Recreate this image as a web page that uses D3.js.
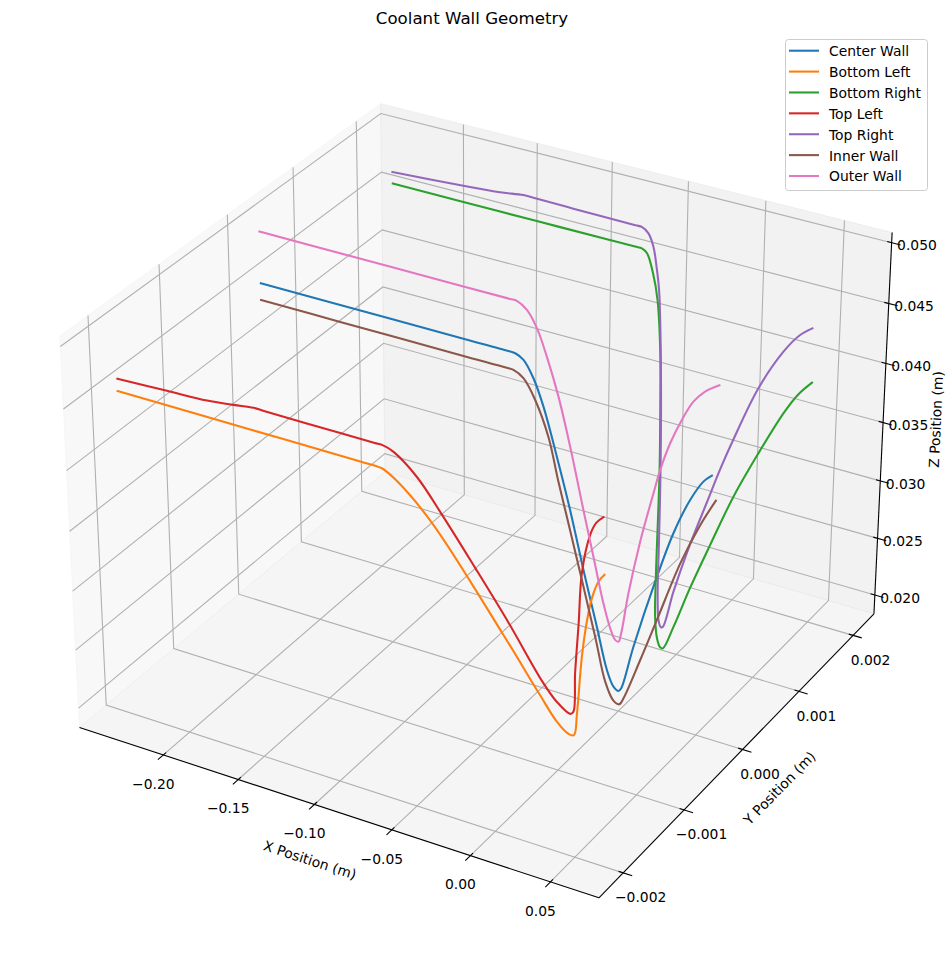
<!DOCTYPE html>
<html><head><meta charset="utf-8"><style>
html,body{margin:0;background:#fff}
text{font-family:"DejaVu Sans";fill:#000}
</style></head><body><svg id="chart" width="947" height="966"></svg>
<script src="https://cdn.jsdelivr.net/npm/d3@7"></script>
<script>
// Wall traces through the cooling channel: axial position, width position, radial height (metres).
const centerX=[-0.2355,-0.1824,-0.1018,-0.0730,-0.0685,-0.0632,-0.0568,-0.0503,-0.0415,-0.0327,-0.0237,-0.0146,-0.0077,-0.0033,-0.0000,0.0017,0.0091,0.0221,0.0329,0.0428,0.0507,0.0558];
const centerZ=[0.04590,0.04590,0.04590,0.04590,0.04588,0.04552,0.04425,0.04216,0.03836,0.03425,0.02953,0.02505,0.02159,0.02033,0.02009,0.02039,0.02428,0.03032,0.03479,0.03791,0.03971,0.04039];
const innerX=[-0.2356,-0.1826,-0.1018,-0.0740,-0.0696,-0.0632,-0.0556,-0.0469,-0.0405,-0.0337,-0.0156,-0.0087,-0.0032,0.0006,0.0033,0.0136,0.0237,0.0377,0.0495,0.0587];
const innerZ=[0.04450,0.04450,0.04450,0.04450,0.04448,0.04403,0.04252,0.03975,0.03640,0.03310,0.02415,0.02054,0.01911,0.01895,0.01959,0.02332,0.02715,0.03248,0.03610,0.03845];
const outerX=[-0.2355,-0.1819,-0.1017,-0.0720,-0.0676,-0.0612,-0.0548,-0.0484,-0.0408,-0.0331,-0.0242,-0.0174,-0.0106,-0.0060,-0.0027,-0.0005,0.0011,0.0053,0.0121,0.0199,0.0238,0.0296,0.0365,0.0433,0.0503,0.0589];
const outerZ=[0.05015,0.05015,0.05015,0.05015,0.05014,0.04963,0.04838,0.04631,0.04332,0.03950,0.03457,0.03090,0.02721,0.02526,0.02439,0.02433,0.02511,0.02869,0.03327,0.03761,0.03967,0.04206,0.04420,0.04592,0.04697,0.04778];
const topRightX=[-0.2358,-0.1880,-0.1631,-0.1474,-0.1400,-0.1140,-0.0730,-0.0688,-0.0644,-0.0595,-0.0546,-0.0497,-0.0418,-0.0317,-0.0231,-0.0143,-0.0082,-0.0036,-0.0012,0.0001,0.0024,0.0056,0.0099,0.0143,0.0188,0.0278,0.0382,0.0461,0.0526];
const topRightY=[0.00208,0.00210,0.00210,0.00210,0.00210,0.00210,0.00210,0.00210,0.00210,0.00206,0.00199,0.00191,0.00174,0.00150,0.00128,0.00104,0.00087,0.00077,0.00075,0.00075,0.00086,0.00101,0.00121,0.00132,0.00140,0.00157,0.00171,0.00177,0.00180];
const topRightZ=[0.04691,0.04719,0.04744,0.04771,0.04770,0.04765,0.04760,0.04760,0.04721,0.04642,0.04518,0.04372,0.04051,0.03598,0.03189,0.02732,0.02405,0.02232,0.02189,0.02199,0.02460,0.02759,0.03095,0.03356,0.03571,0.03962,0.04247,0.04385,0.04450];
const bottomRightX=[-0.2365,-0.1880,-0.1383,-0.0915,-0.0730,-0.0685,-0.0647,-0.0579,-0.0517,-0.0430,-0.0348,-0.0263,-0.0140,-0.0088,-0.0047,-0.0014,0.0004,0.0038,0.0086,0.0148,0.0222,0.0313,0.0408,0.0472,0.0537];
const bottomRightY=[0.00210,0.00210,0.00210,0.00210,0.00210,0.00210,0.00209,0.00202,0.00194,0.00177,0.00157,0.00135,0.00099,0.00085,0.00078,0.00075,0.00075,0.00084,0.00098,0.00115,0.00134,0.00151,0.00167,0.00174,0.00180];
const bottomRightZ=[0.04582,0.04582,0.04582,0.04582,0.04582,0.04582,0.04558,0.04439,0.04272,0.03951,0.03583,0.03149,0.02465,0.02203,0.02065,0.02013,0.02011,0.02173,0.02455,0.02773,0.03129,0.03455,0.03756,0.03905,0.04003];
const topLeftX=[-0.2348,-0.2019,-0.1760,-0.1589,-0.1461,-0.1390,-0.0915,-0.0700,-0.0655,-0.0584,-0.0476,-0.0404,-0.0313,-0.0224,-0.0140,-0.0086,-0.0022,0.0006,0.0095,0.0214,0.0330,0.0454,0.0514,0.0571];
const topLeftY=[-0.00209,-0.00210,-0.00210,-0.00210,-0.00210,-0.00210,-0.00210,-0.00210,-0.00210,-0.00210,-0.00202,-0.00182,-0.00154,-0.00124,-0.00091,-0.00081,-0.00075,-0.00077,-0.00098,-0.00124,-0.00150,-0.00170,-0.00176,-0.00180];
const topLeftZ=[0.04694,0.04718,0.04732,0.04759,0.04782,0.04780,0.04780,0.04780,0.04781,0.04752,0.04560,0.04193,0.03667,0.03107,0.02488,0.02287,0.02179,0.02219,0.02689,0.03279,0.03855,0.04302,0.04450,0.04534];
const bottomLeftX=[-0.2345,-0.1487,-0.0792,-0.0700,-0.0658,-0.0589,-0.0454,-0.0241,-0.0142,-0.0084,-0.0032,0.0007,0.0079,0.0248,0.0366,0.0453,0.0528,0.0582];
const bottomLeftY=[-0.00210,-0.00210,-0.00210,-0.00210,-0.00210,-0.00204,-0.00185,-0.00128,-0.00096,-0.00081,-0.00075,-0.00076,-0.00090,-0.00127,-0.00150,-0.00165,-0.00175,-0.00180];
const bottomLeftZ=[0.04600,0.04600,0.04600,0.04600,0.04596,0.04491,0.04122,0.03020,0.02413,0.02117,0.02003,0.02013,0.02303,0.03031,0.03494,0.03785,0.03985,0.04083];

const seriesNames=["Center Wall","Bottom Left","Bottom Right","Top Left","Top Right","Inner Wall","Outer Wall"];
const seriesColors=["#1f77b4","#ff7f0e","#2ca02c","#d62728","#9467bd","#8c564b","#e377c2"];
const xTicks=[-0.20,-0.15,-0.10,-0.05,0.00,0.05];
const yTicks=[-0.002,-0.001,0.000,0.001,0.002];
const zTicks=[0.020,0.025,0.030,0.035,0.040,0.045,0.050];
const xLimits=[-0.2502,0.0732], yLimits=[-0.00229,0.00230], zLimits=[0.01898,0.05018];

// Walls that sit on the channel mid-plane have a constant width position.
const onMidPlane=xs=>xs.map(()=>0);
const series=[
  [centerX,onMidPlane(centerX),centerZ],
  [bottomLeftX,bottomLeftY,bottomLeftZ],
  [bottomRightX,bottomRightY,bottomRightZ],
  [topLeftX,topLeftY,topLeftZ],
  [topRightX,topRightY,topRightZ],
  [innerX,onMidPlane(innerX),innerZ],
  [outerX,onMidPlane(outerX),outerZ]
].map(([xs,ys,zs],i)=>({name:seriesNames[i],color:seriesColors[i],points:xs.map((x,j)=>[x,ys[j],zs[j]])}));

// Perspective camera: elevation 30 deg, azimuth -60 deg, distance 10, box 4:4:3.
const k=1.8294640721620434*25/24/Math.sqrt(41), box=[4*k,4*k,3*k];
const elev=30*Math.PI/180, azim=-60*Math.PI/180, camDist=10;
const dot=(a,b)=>a[0]*b[0]+a[1]*b[1]+a[2]*b[2];
const cross=(a,b)=>[a[1]*b[2]-a[2]*b[1],a[2]*b[0]-a[0]*b[2],a[0]*b[1]-a[1]*b[0]];
const unit=a=>{const n=Math.hypot(...a);return a.map(v=>v/n)};
const viewDir=[Math.cos(elev)*Math.cos(azim),Math.cos(elev)*Math.sin(azim),Math.sin(elev)];
const eye=box.map((b,i)=>b/2+camDist*viewDir[i]);
const camW=unit(viewDir), camU=unit(cross([0,0,1],camW)), camV=cross(camW,camU);

const sx=d3.scaleLinear().domain(xLimits).range([0,box[0]]);
const sy=d3.scaleLinear().domain(yLimits).range([0,box[1]]);
const sz=d3.scaleLinear().domain(zLimits).range([0,box[2]]);
const screenX=d3.scaleLinear().domain([0,1]).range([484.35,484.35+4797.23]);
const screenY=d3.scaleLinear().domain([0,1]).range([480.86,480.86-4793.59]);
function project([x,y,z]){
  const p=[sx(x)-eye[0],sy(y)-eye[1],sz(z)-eye[2]], d=-dot(camW,p);
  return [screenX(dot(camU,p)/d),screenY(dot(camV,p)/d)];
}
// Panes stand a little outside the data limits.
const padded=l=>{const pad=(l[1]-l[0])/48;return [l[0]-pad,l[1]+pad]};
const [x0,x1]=padded(xLimits),[y0,y1]=padded(yLimits),[z0,z1]=padded(zLimits);
const dxSpan=x1-x0, dySpan=y1-y0;

const svg=d3.select("#chart");
const path=d3.line();
const poly=pts=>path(pts.map(project));

// Panes
const panes=[
  {c:"rgb(242,242,242)",pts:[[x0,y0,z0],[x0,y1,z0],[x0,y1,z1],[x0,y0,z1]]},
  {c:"rgb(230,230,230)",pts:[[x0,y1,z0],[x1,y1,z0],[x1,y1,z1],[x0,y1,z1]]},
  {c:"rgb(236,236,236)",pts:[[x0,y0,z0],[x1,y0,z0],[x1,y1,z0],[x0,y1,z0]]}
];
svg.append("g").selectAll("path").data(panes).join("path")
  .attr("d",d=>poly(d.pts)+"Z").attr("fill",d=>d.c).attr("fill-opacity",.5)
  .attr("stroke",d=>d.c).attr("stroke-opacity",.5).attr("stroke-width",1);

// Grid lines bend from the floor up the back walls
const gridLines=[
  ...xTicks.map(v=>[[v,y0,z0],[v,y1,z0],[v,y1,z1]]),
  ...yTicks.map(v=>[[x1,v,z0],[x0,v,z0],[x0,v,z1]]),
  ...zTicks.map(v=>[[x0,y0,v],[x0,y1,v],[x1,y1,v]])
];
svg.append("g").selectAll("path").data(gridLines).join("path")
  .attr("d",poly).attr("fill","none").attr("stroke","#b0b0b0").attr("stroke-width",1.1);

// Axis edges
const axisEdges=[[[x0,y0,z0],[x1,y0,z0]],[[x1,y0,z0],[x1,y1,z0]],[[x1,y1,z0],[x1,y1,z1]]];
svg.append("g").selectAll("path").data(axisEdges).join("path")
  .attr("d",poly).attr("fill","none").attr("stroke","#000").attr("stroke-width",1.1);

// Tick marks cross the edge, running along a neighbouring axis
const tickOut=1/60, tickIn=1/120;
const tickMarks=[
  ...xTicks.map(v=>[[v,y0-tickOut*dySpan,z0],[v,y0+tickIn*dySpan,z0]]),
  ...yTicks.map(v=>[[x1+tickOut*dxSpan,v,z0],[x1-tickIn*dxSpan,v,z0]]),
  ...zTicks.map(v=>[[x1+tickOut*dxSpan,y1,v],[x1-tickIn*dxSpan,y1,v]])
];
svg.append("g").selectAll("path").data(tickMarks).join("path")
  .attr("d",poly).attr("fill","none").attr("stroke","#000").attr("stroke-width",1.1);

// Tick labels sit at a fixed offset from each edge crossing
const tickLabels=[
  ...xTicks.map(v=>({at:[v,y0,z0],t:d3.format(".2f")(v),dx:-10,dy:28.8})),
  ...yTicks.map(v=>({at:[x1,v,z0],t:d3.format(".3f")(v),dx:17.5,dy:24.5})),
  ...zTicks.map(v=>({at:[x1,y1,v],t:d3.format(".3f")(v),dx:25.3,dy:2.7}))
];
svg.append("g").selectAll("text").data(tickLabels).join("text")
  .attr("x",d=>project(d.at)[0]+d.dx).attr("y",d=>project(d.at)[1]+d.dy+5)
  .attr("text-anchor","middle").attr("font-size",13.89).text(d=>d.t);

// Axis titles
const axisTitles=[
  {t:"X Position (m)",x:310,y:860,r:18},
  {t:"Y Position (m)",x:779.5,y:788,r:-45.6},
  {t:"Z Position (m)",x:936,y:419.5,r:-87.4}
];
svg.append("g").selectAll("text").data(axisTitles).join("text")
  .attr("transform",d=>`translate(${d.x},${d.y}) rotate(${d.r})`)
  .attr("text-anchor","middle").attr("dy",5).attr("font-size",13.89).text(d=>d.t);

svg.append("text").attr("x",472).attr("y",24).attr("text-anchor","middle").attr("font-size",16.67).text("Coolant Wall Geometry");

// Wall traces
const traceLine=d3.line().curve(d3.curveCatmullRom.alpha(0.5));
svg.append("g").selectAll("path").data(series).join("path")
  .attr("d",d=>traceLine(d.points.map(project))).attr("fill","none")
  .attr("stroke",d=>d.color).attr("stroke-width",2.08).attr("stroke-linecap","square").attr("stroke-linejoin","round");

// Legend
const legendRow=d3.scaleLinear().domain([0,6]).range([50.7,176]);
const legend=svg.append("g");
legend.append("rect").attr("x",785.5).attr("y",39.5).attr("width",142).attr("height",151).attr("rx",3)
  .attr("fill","#fff").attr("fill-opacity",.8).attr("stroke","#ccc").attr("stroke-width",1);
const row=legend.selectAll("g").data(series).join("g").attr("transform",(d,i)=>`translate(0,${legendRow(i)})`);
row.append("line").attr("x1",789).attr("x2",819).attr("stroke",d=>d.color).attr("stroke-width",2.08);
row.append("text").attr("x",829).attr("y",5.4).attr("font-size",13.89).text(d=>d.name);
</script></body></html>
